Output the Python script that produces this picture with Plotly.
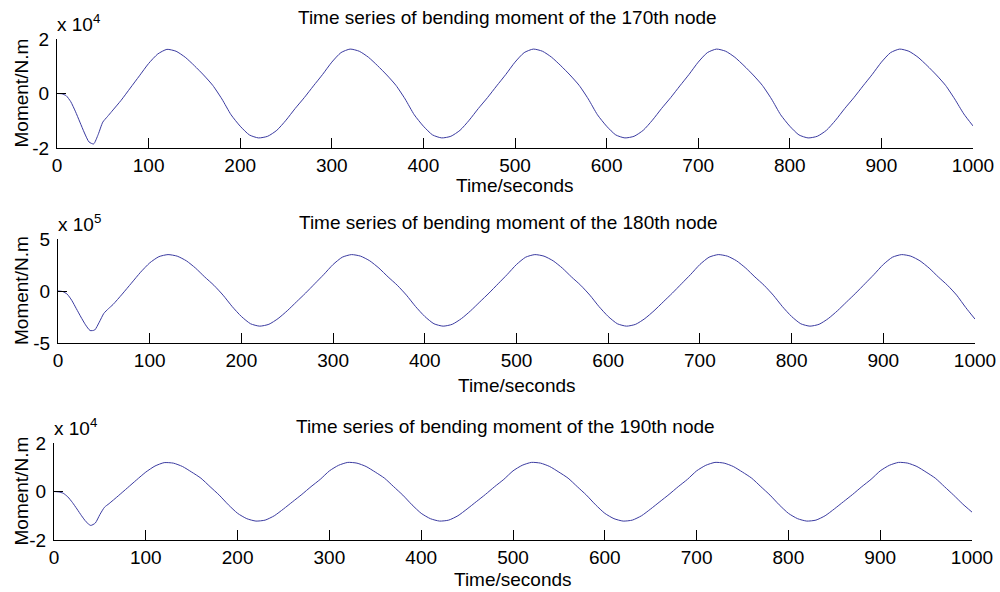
import plotly.graph_objects as go

# ---- data ----
t = [0, 5, 10, 15, 20, 25, 30, 35, 40, 45, 50, 55, 60,
     70, 80, 90, 100, 110, 120, 130, 140, 150, 160, 170, 180, 190, 200,
     210, 220, 230, 240, 250, 260, 270, 280, 290, 300,
     310, 320, 330, 340, 350, 360, 370, 380, 390, 400,
     410, 420, 430, 440, 450, 460, 470, 480, 490, 500,
     510, 520, 530, 540, 550, 560, 570, 580, 590, 600,
     610, 620, 630, 640, 650, 660, 670, 680, 690, 700,
     710, 720, 730, 740, 750, 760, 770, 780, 790, 800,
     810, 820, 830, 840, 850, 860, 870, 880, 890, 900,
     910, 920, 930, 940, 950, 960, 970, 980, 990, 1000]

# node 170, units of 1e4 N.m
m170 = [0, -0.01, -0.08, -0.30, -0.65, -1.05, -1.45, -1.78, -1.85, -1.50, -1.05, -0.85, -0.65,
        -0.25, 0.20, 0.65, 1.10, 1.45, 1.62, 1.55, 1.33, 1.02, 0.68, 0.30, -0.20, -0.78, -1.20,
        -1.52, -1.63, -1.57, -1.35, -0.98, -0.55, -0.15, 0.28, 0.70, 1.15,
        1.50, 1.63, 1.55, 1.33, 1.02, 0.68, 0.30, -0.20, -0.78, -1.20,
        -1.52, -1.63, -1.57, -1.35, -0.98, -0.55, -0.15, 0.28, 0.70, 1.15,
        1.50, 1.63, 1.55, 1.33, 1.02, 0.68, 0.30, -0.20, -0.78, -1.20,
        -1.52, -1.63, -1.57, -1.35, -0.98, -0.55, -0.15, 0.28, 0.70, 1.15,
        1.50, 1.63, 1.55, 1.33, 1.02, 0.68, 0.30, -0.20, -0.78, -1.20,
        -1.52, -1.63, -1.57, -1.35, -0.98, -0.55, -0.15, 0.28, 0.70, 1.15,
        1.50, 1.63, 1.55, 1.33, 1.02, 0.68, 0.30, -0.20, -0.75, -1.19]

# node 180, units of 1e5 N.m
m180 = [0, -0.05, -0.30, -0.90, -1.70, -2.50, -3.25, -3.80, -3.75, -3.00, -2.15, -1.70, -1.30,
        -0.30, 0.75, 1.80, 2.70, 3.30, 3.50, 3.35, 2.90, 2.20, 1.35, 0.55, -0.40, -1.50, -2.45,
        -3.15, -3.38, -3.20, -2.65, -1.90, -1.05, -0.20, 0.70, 1.60, 2.55,
        3.25, 3.50, 3.35, 2.90, 2.20, 1.35, 0.55, -0.40, -1.50, -2.45,
        -3.15, -3.38, -3.20, -2.65, -1.90, -1.05, -0.20, 0.70, 1.60, 2.55,
        3.25, 3.50, 3.35, 2.90, 2.20, 1.35, 0.55, -0.40, -1.50, -2.45,
        -3.15, -3.38, -3.20, -2.65, -1.90, -1.05, -0.20, 0.70, 1.60, 2.55,
        3.25, 3.50, 3.35, 2.90, 2.20, 1.35, 0.55, -0.40, -1.50, -2.45,
        -3.15, -3.38, -3.20, -2.65, -1.90, -1.05, -0.20, 0.70, 1.60, 2.55,
        3.25, 3.50, 3.35, 2.90, 2.20, 1.35, 0.55, -0.40, -1.60, -2.70]

# node 190, units of 1e4 N.m
m190 = [0, -0.02, -0.07, -0.22, -0.45, -0.72, -1.00, -1.25, -1.40, -1.30, -0.95, -0.65, -0.50,
        -0.18, 0.15, 0.48, 0.80, 1.05, 1.19, 1.17, 1.03, 0.80, 0.55, 0.20, -0.15, -0.55, -0.90,
        -1.12, -1.22, -1.18, -1.00, -0.72, -0.42, -0.12, 0.20, 0.50, 0.85,
        1.08, 1.20, 1.17, 1.03, 0.80, 0.55, 0.20, -0.15, -0.55, -0.90,
        -1.12, -1.22, -1.18, -1.00, -0.72, -0.42, -0.12, 0.20, 0.50, 0.85,
        1.08, 1.20, 1.17, 1.03, 0.80, 0.55, 0.20, -0.15, -0.55, -0.90,
        -1.12, -1.22, -1.18, -1.00, -0.72, -0.42, -0.12, 0.20, 0.50, 0.85,
        1.08, 1.20, 1.17, 1.03, 0.80, 0.55, 0.20, -0.15, -0.55, -0.90,
        -1.12, -1.22, -1.18, -1.00, -0.72, -0.42, -0.12, 0.20, 0.50, 0.85,
        1.08, 1.20, 1.17, 1.03, 0.80, 0.55, 0.20, -0.15, -0.52, -0.85]

titles = ["Time series of bending moment of the 170th node",
          "Time series of bending moment of the 180th node",
          "Time series of bending moment of the 190th node"]
exponents = ["4", "5", "4"]
y_limits = [2, 5, 2]
x_ticks = [0, 100, 200, 300, 400, 500, 600, 700, 800, 900, 1000]

# ---- layout geometry (pixels) ----
W, H = 1000, 592
panels = [  # (x_left, x_right, y_top, y_bottom)
    (57, 973, 39, 148),
    (58, 975, 239, 343),
    (54, 972, 443, 540),
]
title_y = [18, 222, 426]
xlab_y = [185, 385, 579]

FONT = "Liberation Sans, Arial, sans-serif"
FS = 19
LINE = "#3a3aa0"

fig = go.Figure()
series = [m170, m180, m190]
layout = dict(
    width=W, height=H, margin=dict(l=0, r=0, t=0, b=0, autoexpand=False),
    paper_bgcolor="white", plot_bgcolor="white", showlegend=False,
    font=dict(family=FONT, size=FS, color="black"),
)
annotations = []
for i, (vals, (xl, xr, yt, yb)) in enumerate(zip(series, panels)):
    n = "" if i == 0 else str(i + 1)
    fig.add_trace(go.Scatter(x=t, y=vals, mode="lines", xaxis="x" + n, yaxis="y" + n,
                             line=dict(color=LINE, width=1, shape="spline", smoothing=0.6),
                             hoverinfo="x+y"))
    lim = y_limits[i]
    layout["xaxis" + n] = dict(
        domain=[xl / W, xr / W], anchor="y" + n, range=[0, 1000], automargin=False,
        tickvals=x_ticks, ticks="inside", ticklen=10, tickcolor="black", tickwidth=1,
        showline=True, linecolor="black", linewidth=1, showgrid=False, zeroline=False,
        tickfont=dict(family=FONT, size=FS, color="black"), fixedrange=True,
    )
    layout["yaxis" + n] = dict(
        domain=[1 - yb / H, 1 - yt / H], anchor="x" + n, range=[-lim, lim], automargin=False,
        tickvals=[-lim, 0, lim], ticktext=[str(-lim), "0", str(lim)],
        ticks="inside", ticklen=9, tickcolor="black", tickwidth=1,
        showline=True, linecolor="black", linewidth=1, showgrid=False, zeroline=False,
        tickfont=dict(family=FONT, size=FS, color="black"), fixedrange=True,
        ticklabelstandoff=3,
    )
    cx = (xl + xr) / 2
    annotations.append(dict(text=titles[i], x=cx / W - 0.008, y=1 - title_y[i] / H,
                            xref="paper", yref="paper", showarrow=False,
                            xanchor="center", yanchor="middle",
                            font=dict(family=FONT, size=FS, color="black")))
    annotations.append(dict(text="Time/seconds", x=cx / W, y=1 - xlab_y[i] / H,
                            xref="paper", yref="paper", showarrow=False,
                            xanchor="center", yanchor="middle",
                            font=dict(family=FONT, size=FS, color="black")))
    annotations.append(dict(text="Moment/N.m", x=21 / W, y=1 - ((yt + yb) / 2) / H,
                            xref="paper", yref="paper", showarrow=False, textangle=-90,
                            xanchor="center", yanchor="middle",
                            font=dict(family=FONT, size=FS, color="black")))
    annotations.append(dict(text="x 10<sup>" + exponents[i] + "</sup>", x=(xl - 2) / W,
                            y=1 - (yt - 2) / H, xref="paper", yref="paper",
                            showarrow=False, xanchor="left", yanchor="bottom",
                            font=dict(family=FONT, size=FS, color="black")))
layout["annotations"] = annotations
fig.update_layout(**layout)
fig.write_html("out.html")
